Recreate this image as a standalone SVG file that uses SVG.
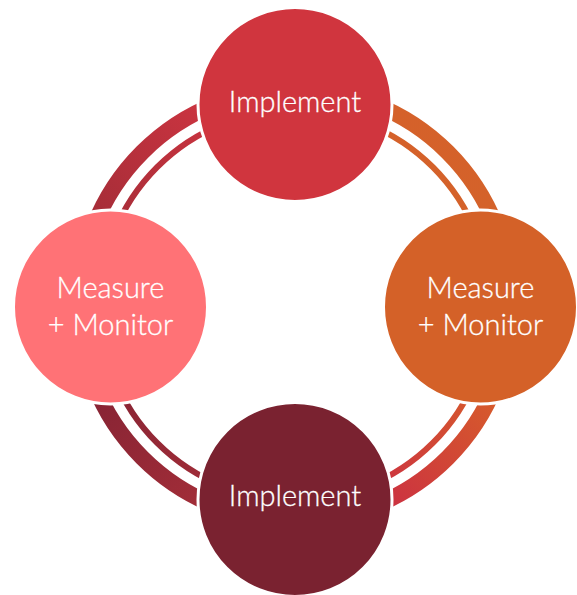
<svg xmlns="http://www.w3.org/2000/svg" width="577" height="595" viewBox="0 0 577 595">
<defs>
<linearGradient id="gTL" gradientUnits="userSpaceOnUse" x1="90" y1="215" x2="200" y2="100"><stop offset="0" stop-color="#A52D38"/><stop offset="1" stop-color="#CB3440"/></linearGradient>
<linearGradient id="gTR" gradientUnits="userSpaceOnUse" x1="390" y1="100" x2="500" y2="215"><stop offset="0" stop-color="#D5612A"/><stop offset="1" stop-color="#D4622A"/></linearGradient>
<linearGradient id="gBL" gradientUnits="userSpaceOnUse" x1="90" y1="400" x2="200" y2="510"><stop offset="0" stop-color="#872434"/><stop offset="1" stop-color="#A22D38"/></linearGradient>
<linearGradient id="gBR" gradientUnits="userSpaceOnUse" x1="490" y1="400" x2="390" y2="500"><stop offset="0" stop-color="#D65A2C"/><stop offset="1" stop-color="#CC3340"/></linearGradient>
</defs>
<style>
.thick{fill:none;stroke-width:16}
.thin{fill:none;stroke-width:6}
.node circle{stroke:#fff;stroke-width:3}
.node text{font-family:Lato,"Open Sans",sans-serif;font-weight:300;font-size:29px;fill:#fff;text-anchor:middle;stroke:#fff;stroke-width:0.3}
</style>
<g id="connectors">
<path class="thick" stroke="url(#gTL)" d="M79,305 A216,216 0 0 1 295,89"/>
<path class="thin" stroke="url(#gTL)" d="M100,305 A195,195 0 0 1 295,110"/>
<path class="thick" stroke="url(#gTR)" d="M295,89 A216,216 0 0 1 511,305"/>
<path class="thin" stroke="url(#gTR)" d="M295,110 A195,195 0 0 1 490,305"/>
<path class="thick" stroke="url(#gBR)" d="M511,305 A216,216 0 0 1 295,521"/>
<path class="thin" stroke="url(#gBR)" d="M490,305 A195,195 0 0 1 295,500"/>
<path class="thick" stroke="url(#gBL)" d="M295,521 A216,216 0 0 1 79,305"/>
<path class="thin" stroke="url(#gBL)" d="M295,500 A195,195 0 0 1 100,305"/>
</g>
<g id="top" class="node"><circle cx="295" cy="104.5" r="97" fill="#D0353E"/><text x="295" y="111.5">Implement</text></g>
<g id="right" class="node"><circle cx="480.5" cy="307" r="97" fill="#D46128"/><text x="480.5" y="298">Measure</text><text x="480.5" y="335">+ Monitor</text></g>
<g id="bottom" class="node"><circle cx="295" cy="499.5" r="97" fill="#7A2230"/><text x="295" y="505.5">Implement</text></g>
<g id="left" class="node"><circle cx="110.5" cy="307" r="97" fill="#FF7276"/><text x="110.5" y="298">Measure</text><text x="110.5" y="335">+ Monitor</text></g>
</svg>
